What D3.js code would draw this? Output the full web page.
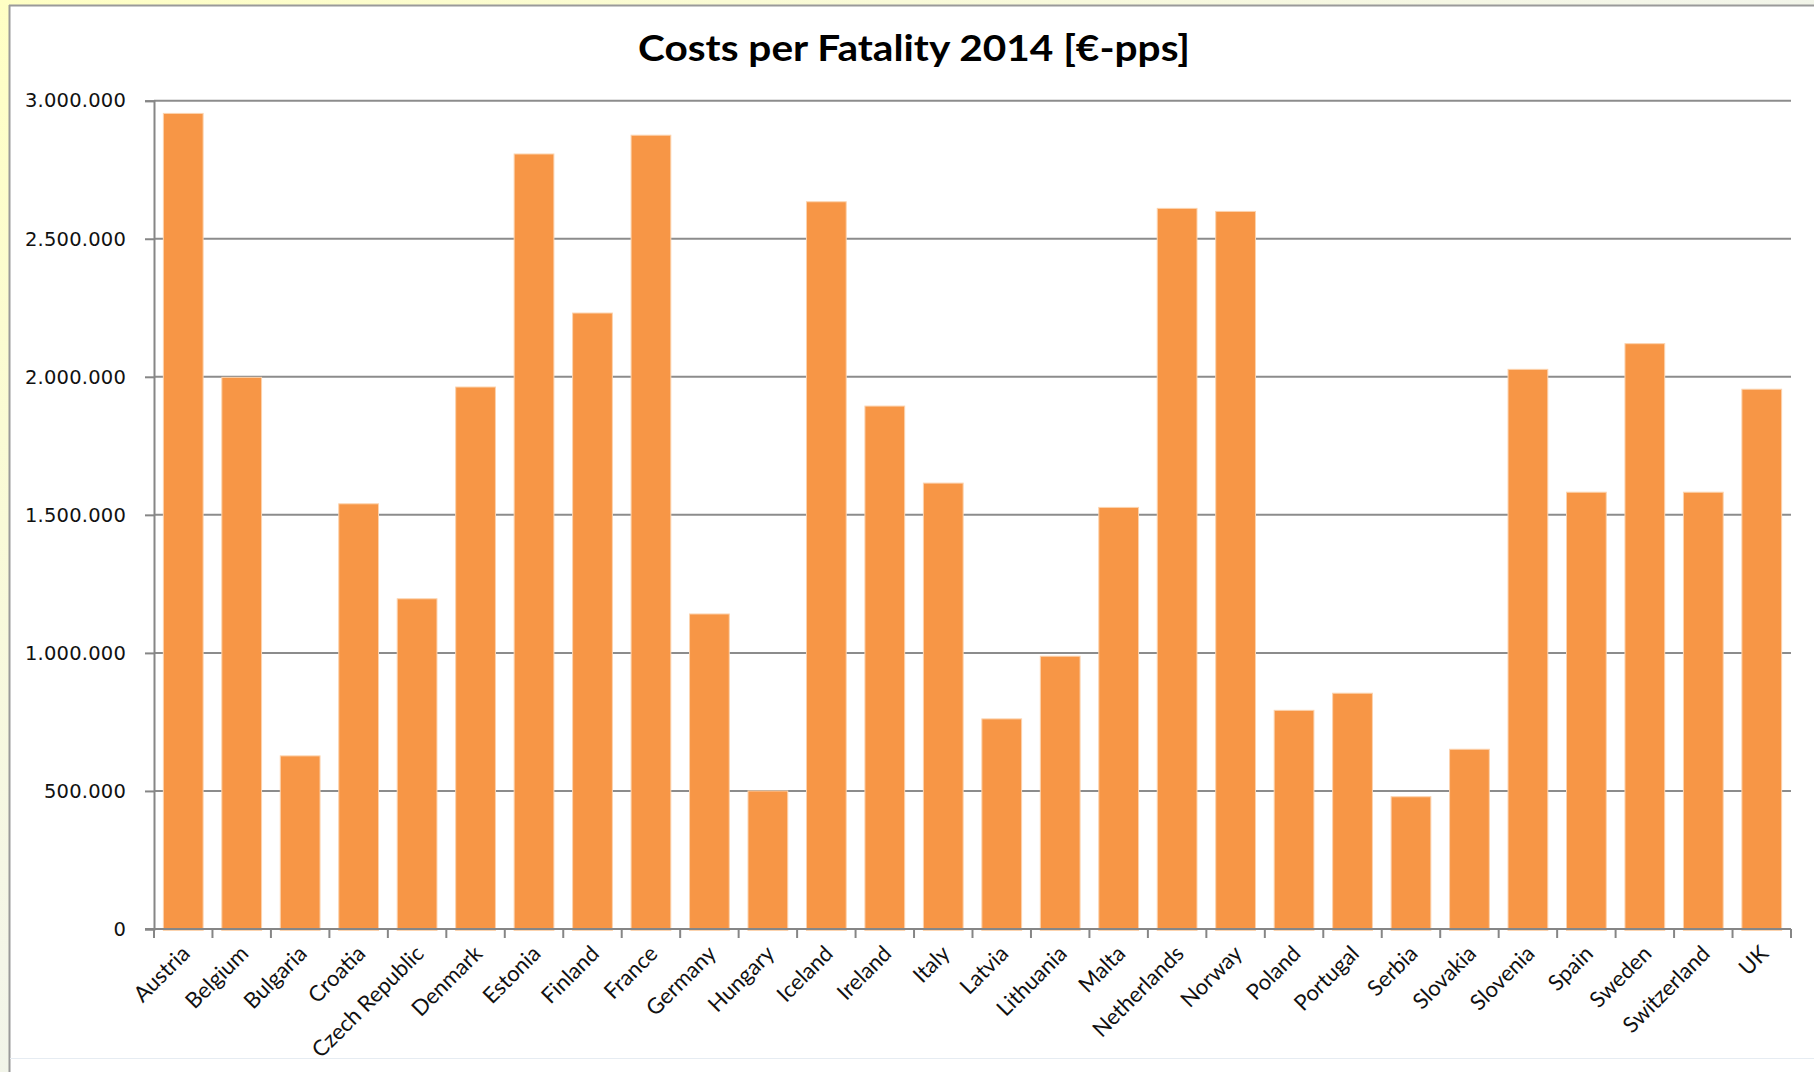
<!DOCTYPE html>
<html>
<head>
<meta charset="utf-8">
<script src="https://cdn.jsdelivr.net/npm/d3@7"></script>
<style>
  body { margin: 0; background: #fff; }
</style>
</head>
<body>
<div id="chart"></div>
<script>
// Data
const countries = ["Austria", "Belgium", "Bulgaria", "Croatia", "Czech Republic", "Denmark", "Estonia",
  "Finland", "France", "Germany", "Hungary", "Iceland", "Ireland", "Italy", "Latvia", "Lithuania",
  "Malta", "Netherlands", "Norway", "Poland", "Portugal", "Serbia", "Slovakia", "Slovenia", "Spain",
  "Sweden", "Switzerland", "UK"];
const costs = [2954000, 1998000, 627000, 1540000, 1196000, 1963000, 2807000,
  2231000, 2875000, 1141000, 500000, 2634000, 1894000, 1615000, 761000, 988000,
  1527000, 2610000, 2599000, 792000, 854000, 479000, 651000, 2027000, 1582000,
  2120000, 1582000, 1955000];
const yTicks = [0, 500000, 1000000, 1500000, 2000000, 2500000, 3000000];
const title = "Costs per Fatality 2014 [€-pps]";

const W = 1814, H = 1072;
const plot = {left: 154, right: 1791, top: 100.7, bottom: 929};

const svg = d3.select("#chart").append("svg")
    .attr("width", W)
    .attr("height", H);

// Frame: pale gradient border round a white panel
const defs = svg.append("defs");
const grad = defs.append("linearGradient")
    .attr("id", "frame").attr("x1", "0").attr("y1", "0").attr("x2", "1").attr("y2", "1");
grad.append("stop").attr("offset", "0%").attr("stop-color", "#ffffc4");
grad.append("stop").attr("offset", "45%").attr("stop-color", "#f4f6e8");
grad.append("stop").attr("offset", "100%").attr("stop-color", "#dce6f2");
svg.append("rect").attr("width", W).attr("height", H).attr("fill", "url(#frame)");
svg.append("rect").attr("x", 9).attr("y", 6).attr("width", W - 9).attr("height", H - 6).attr("fill", "#fff");
svg.append("line").attr("x1", 9).attr("x2", W).attr("y1", 5.5).attr("y2", 5.5)
    .attr("stroke", "#9a9a9a").attr("stroke-width", 2);
svg.append("line").attr("x1", 9.5).attr("x2", 9.5).attr("y1", 5).attr("y2", H)
    .attr("stroke", "#9a9a9a").attr("stroke-width", 2);
svg.append("line").attr("x1", 10).attr("x2", W).attr("y1", 1058.5).attr("y2", 1058.5)
    .attr("stroke", "#e6ecf2").attr("stroke-width", 1);

// Scales
const x = d3.scaleBand()
    .domain(countries)
    .range([plot.left, plot.right])
    .paddingInner(0.32)
    .paddingOuter(0.16);
const y = d3.scaleLinear()
    .domain([0, 3000000])
    .range([plot.bottom, plot.top]);

const locale = d3.formatLocale({decimal: ",", thousands: ".", grouping: [3], currency: ["", "€"]});
const fmt = locale.format(",d");

// Gridlines
svg.append("g")
  .selectAll("line")
  .data(yTicks.filter(d => d > 0))
  .join("line")
    .attr("x1", plot.left)
    .attr("x2", plot.right)
    .attr("y1", d => y(d))
    .attr("y2", d => y(d))
    .attr("stroke", "#8c8c8c")
    .attr("stroke-width", 2);

// Bars
svg.append("g")
  .selectAll("rect")
  .data(countries)
  .join("rect")
    .attr("x", d => x(d))
    .attr("width", x.bandwidth())
    .attr("y", (d, i) => y(costs[i]))
    .attr("height", (d, i) => y(0) - y(costs[i]) + 1.5)
    .attr("fill", "#f79646")
    .attr("stroke", "#fcd3ae")
    .attr("stroke-width", 1);

// Y axis
const yAxis = svg.append("g")
    .attr("transform", `translate(${plot.left},0)`)
    .call(d3.axisLeft(y).tickValues(yTicks).tickFormat(fmt).tickSize(9).tickPadding(19));
yAxis.select(".domain").attr("stroke", "#868686").attr("stroke-width", 2);
yAxis.selectAll(".tick line").attr("stroke", "#868686").attr("stroke-width", 2);
yAxis.selectAll(".tick text")
    .attr("font-family", "'DejaVu Sans', Verdana, sans-serif")
    .attr("font-size", 19.5)
    .attr("letter-spacing", "0.2px")
    .attr("fill", "#111");

// X axis: baseline, ticks at band edges, rotated labels
const step = x.step();
const edges = d3.range(countries.length + 1).map(i => plot.left + i * step);
svg.append("line")
    .attr("x1", plot.left - 9).attr("x2", plot.right)
    .attr("y1", y(0)).attr("y2", y(0))
    .attr("stroke", "#868686").attr("stroke-width", 2);
svg.append("g")
  .selectAll("line")
  .data(edges)
  .join("line")
    .attr("x1", d => d).attr("x2", d => d)
    .attr("y1", y(0)).attr("y2", y(0) + 9)
    .attr("stroke", "#868686").attr("stroke-width", 2);
svg.append("g")
  .selectAll("text")
  .data(countries)
  .join("text")
    .attr("transform", d => `translate(${x(d) + x.bandwidth() / 2 + 8},${y(0) + 26}) rotate(-45)`)
    .attr("text-anchor", "end")
    .attr("font-family", "Lato, 'Open Sans', sans-serif")
    .attr("font-size", 22)
    .attr("fill", "#111")
    .text(d => d);

// Title
svg.append("text")
    .attr("x", 914)
    .attr("y", 61)
    .attr("text-anchor", "middle")
    .attr("font-family", "Lato, 'Open Sans', sans-serif")
    .attr("font-weight", "bold")
    .attr("font-size", 37)
    .attr("textLength", 552)
    .attr("lengthAdjust", "spacingAndGlyphs")
    .attr("fill", "#000")
    .text(title);
</script>
</body>
</html>
